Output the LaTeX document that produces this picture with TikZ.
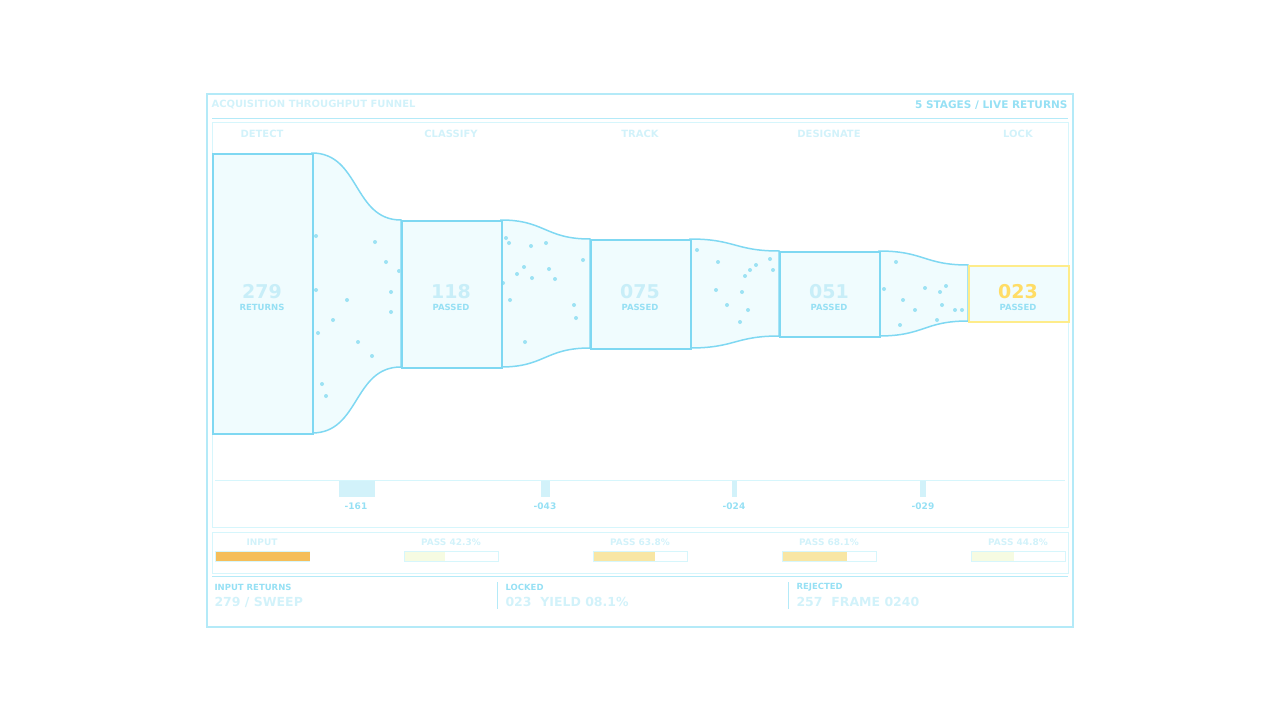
\documentclass[tikz,border=0pt]{standalone}
\usepackage{fontspec}
\setmainfont{DejaVu Sans}
\begin{document}
\begin{tikzpicture}[x=1pt,y=-1pt,
  line/.style={draw=cyanl,line width=1.3pt},
  stg/.style={fill=cyanf,draw=cyanl,line width=1.5pt},
  hd/.style={text=faint,font=\bfseries\fontsize{10}{10}\selectfont},
  num/.style={text=numc,font=\bfseries\fontsize{19}{19}\selectfont},
  sub/.style={text=numc2,font=\bfseries\fontsize{8.5}{8.5}\selectfont},
  dl/.style={text=numc2,font=\bfseries\fontsize{9}{9}\selectfont},
  dot/.style={fill=dotc,draw=none},
  bar/.style={draw=barb,line width=0.8pt,fill=white}]
\definecolor{cyanl}{HTML}{7FD8F2}
\definecolor{cyanf}{HTML}{F0FCFE}
\definecolor{faint}{HTML}{D2F2FA}
\definecolor{numc}{HTML}{C8EEF8}
\definecolor{numc2}{HTML}{96E0F4}
\definecolor{dotc}{HTML}{9CE2F4}
\definecolor{barb}{HTML}{D6F6FC}
\definecolor{frame}{HTML}{B4EAF8}
\useasboundingbox (0,0) rectangle (1280,720);
\draw[frame,line width=1.2pt] (207,94) rectangle (1073,627);
\node[hd,anchor=west] (title) at (208,105) {ACQUISITION THROUGHPUT FUNNEL};
\node[anchor=east,text=numc2,font=\bfseries\fontsize{10.5}{10.5}\selectfont] (sub) at (1071,105) {5 STAGES / LIVE RETURNS};
\draw[frame,line width=1pt] (212,118) -- (1068,118);
\draw[barb,line width=1pt] (212,122) rectangle (1068,527);
% connectors
\path[stg] (312,153) .. controls (360,153) and (353,220) .. (401,220) -- (401,367) .. controls (353,367) and (360,433) .. (312,433) -- cycle;
\path[stg] (501,220) .. controls (545,220) and (545,239) .. (590,239) -- (590,348) .. controls (545,348) and (545,367) .. (501,367) -- cycle;
\path[stg] (690,239) .. controls (735,239) and (735,251) .. (779,251) -- (779,336) .. controls (735,336) and (735,348) .. (690,348) -- cycle;
\path[stg] (879,251) .. controls (924,251) and (924,265) .. (968,265) -- (968,321) .. controls (924,321) and (924,336) .. (879,336) -- cycle;
\foreach \p in {(316,290),(318,333),(347,300),(375,242),(386,262),(391,292),(391,312),(399,271),(358,342),(372,356),(322,384),(326,396),(316,236),(333,320),
(506,238),(509,243),(517,274),(524,267),(531,246),(546,243),(549,269),(532,278),(555,279),(574,305),(583,260),(576,318),(503,283),(510,300),(525,342),
(697,250),(718,262),(745,276),(750,270),(756,265),(742,292),(770,259),(748,310),(773,270),(740,322),(716,290),(727,305),
(896,262),(884,289),(903,300),(915,310),(925,288),(940,292),(946,286),(942,305),(955,310),(962,310),(937,320),(900,325)}
  \fill[dot] \p circle (2);
% stage boxes
\node[stg,minimum width=100,minimum height=280,anchor=north west,inner sep=0] (s1) at (212,153) {};
\node[stg,minimum width=100,minimum height=147,anchor=north west,inner sep=0] (s2) at (401,220) {};
\node[stg,minimum width=100,minimum height=109,anchor=north west,inner sep=0] (s3) at (590,239) {};
\node[stg,minimum width=100,minimum height=85,anchor=north west,inner sep=0] (s4) at (779,251) {};
\node[fill=cyanf,draw=yellow!75!orange!45,line width=2pt,minimum width=100,minimum height=56,anchor=north west,inner sep=0] (s5) at (968,265) {};
\foreach \x/\n/\l/\t in {262/279/RETURNS/DETECT,451/118/PASSED/CLASSIFY,640/075/PASSED/TRACK,829/051/PASSED/DESIGNATE}{
  \node[num] at (\x,292) {\n};
  \node[sub] at (\x,307) {\l};
  \node[hd] at (\x,134) {\t};
}
\node[hd] (lk) at (1018,134) {LOCK};
\node[text=orange!45!yellow!60,font=\bfseries\fontsize{19}{19}\selectfont] (n5) at (1018,292) {023};
\node[sub] (l5) at (1018,307) {PASSED};
% deltas
\draw[barb,line width=1pt] (215,480) -- (1065,480);
\fill[faint] (339,481) rectangle (375,497);
\fill[faint] (541,481) rectangle (550,497);
\fill[faint] (732,481) rectangle (737,497);
\fill[faint] (920,481) rectangle (926,497);
\node[dl] (d1) at (356,506) {-161};
\node[dl] (d2) at (545,506) {-043};
\node[dl] (d3) at (734,506) {-024};
\node[dl] (d4) at (923,506) {-029};
% pass panel
\draw[barb,line width=1pt] (212,532) rectangle (1068,573);
\definecolor{orb}{HTML}{F5BE5A}
\definecolor{yeb}{HTML}{F8E6A4}
\definecolor{pab}{HTML}{F6FBE2}
\foreach \x/\t/\f/\c in {215/INPUT/94/orb,404/PASS 42.3\%/40/pab,593/PASS 63.8\%/61/yeb,782/PASS 68.1\%/64/yeb,971/PASS 44.8\%/42/pab}{
  \node[hd,font=\bfseries\fontsize{9}{9}\selectfont] at (\x+47,542) {\t};
  \draw[bar] (\x,551) rectangle +(94,10);
  \fill[\c] (\x+0.5,551.5) rectangle +(\f,9);
}
\draw[frame,line width=1pt] (212,576) -- (1068,576);
% footer
\draw[frame,line width=1pt] (497,582) -- (497,609);
\draw[frame,line width=1pt] (788,582) -- (788,609);
\node[anchor=west,sub] (f1) at (211,587) {INPUT RETURNS};
\node[anchor=west,hd,font=\bfseries\fontsize{12.5}{12.5}\selectfont] (v1) at (211,602) {279 / SWEEP};
\node[anchor=west,sub] (f2) at (502,587) {LOCKED};
\node[anchor=west,hd,font=\bfseries\fontsize{12.5}{12.5}\selectfont] (v2) at (502,602) {023\ \ YIELD 08.1\%};
\node[anchor=west,sub] (f3) at (793,587) {REJECTED};
\node[anchor=west,hd,font=\bfseries\fontsize{12.5}{12.5}\selectfont] (v3) at (793,602) {257\ \ FRAME 0240};
\end{tikzpicture}
\end{document}
